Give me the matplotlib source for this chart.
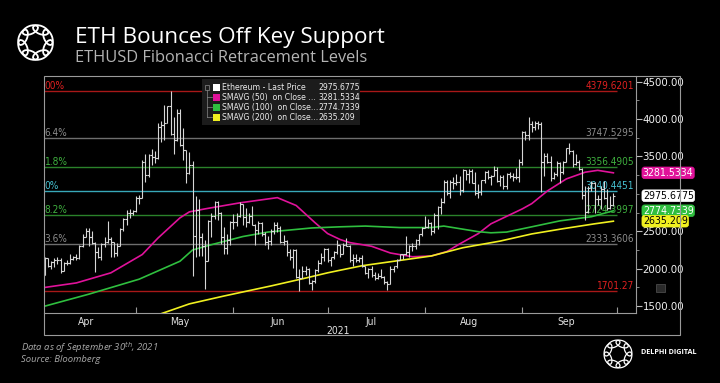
import matplotlib
matplotlib.use("Agg")
import matplotlib.pyplot as plt
import matplotlib.dates as mdates
from matplotlib import font_manager
from matplotlib.font_manager import FontProperties
from matplotlib.patches import Rectangle, Ellipse
from matplotlib.lines import Line2D
import numpy as np
import pandas as pd

# ---- data ----
start_date = "2021-04-02"
end_date = "2021-09-30"
first_open = 1920

close = [
    # Apr 2-30
    2140, 2030, 2090, 2110, 2110, 1970, 2080, 2070, 2135, 2150, 2140, 2300, 2430, 2510, 2420,
    2350, 2230, 2160, 2330, 2360, 2400, 2360, 2210, 2300, 2530, 2660, 2750, 2750, 2770,
    # May
    2945, 2950, 3430, 3250, 3520, 3490, 3480, 3900, 3920, 3950, 4170, 3800, 3720, 4080, 3650,
    3590, 3280, 3380, 2440, 2780, 2430, 2300, 2100, 2640, 2710, 2890, 2740, 2420, 2280, 2390, 2630,
    # Jun
    2630, 2710, 2860, 2690, 2630, 2710, 2590, 2520, 2610, 2470, 2360, 2370, 2510, 2590, 2550,
    2360, 2370, 2230, 2160, 2250, 1890, 1875, 1970, 1990, 1810, 1830, 1980, 2080, 2160, 2270,
    # Jul
    2110, 2150, 2220, 2320, 2200, 2320, 2310, 2120, 2140, 2110, 2140, 2030, 1940, 1990, 1910,
    1880, 1900, 1890, 1820, 1790, 1990, 2030, 2120, 2190, 2190, 2230, 2300, 2300, 2380, 2460, 2540,
    # Aug
    2560, 2610, 2500, 2720, 2830, 2890, 3160, 3010, 3160, 3140, 3160, 3050, 3320, 3270, 3310,
    3150, 3010, 3030, 3180, 3290, 3230, 3240, 3320, 3170, 3230, 3110, 3270, 3240, 3230, 3220, 3430,
    # Sep
    3830, 3790, 3940, 3890, 3950, 3930, 3430, 3500, 3430, 3210, 3270, 3410, 3290, 3430, 3610,
    3570, 3400, 3430, 3330, 2980, 2760, 3080, 3150, 2930, 2930, 3060, 2940, 2810, 2850, 2975.6775,
]
high = [
    2150, 2145, 2100, 2140, 2150, 2140, 2095, 2110, 2190, 2165, 2200, 2320, 2470, 2540, 2550,
    2500, 2360, 2290, 2350, 2430, 2640, 2430, 2360, 2350, 2540, 2680, 2790, 2800, 2790,
    2970, 2985, 3450, 3530, 3530, 3600, 3570, 3950, 3980, 4190, 4180, 4379.62, 4030, 4130, 4140,
    3880, 3590, 3560, 3440, 2970, 2930, 2480, 2380, 2650, 2750, 2910, 2900, 2760, 2560, 2460, 2640,
    2730, 2750, 2890, 2860, 2810, 2750, 2840, 2600, 2640, 2620, 2490, 2440, 2530, 2620, 2630,
    2570, 2450, 2380, 2270, 2260, 2260, 2000, 2040, 2040, 2010, 1850, 1990, 2120, 2210, 2280,
    2280, 2160, 2240, 2390, 2320, 2350, 2410, 2320, 2190, 2190, 2160, 2180, 2040, 2010, 2030,
    1960, 1940, 1990, 1900, 1840, 2030, 2040, 2130, 2200, 2200, 2440, 2320, 2340, 2400, 2470, 2560,
    2700, 2670, 2630, 2740, 2840, 2950, 3180, 3180, 3180, 3230, 3270, 3240, 3330, 3310, 3330,
    3330, 3290, 3130, 3190, 3300, 3320, 3250, 3370, 3360, 3250, 3250, 3280, 3290, 3280, 3350, 3470,
    3840, 3840, 4030, 3970, 3980, 3970, 3960, 3550, 3550, 3510, 3290, 3440, 3420, 3440, 3620,
    3680, 3590, 3530, 3450, 3350, 3100, 3100, 3170, 3160, 2980, 3110, 3170, 3060, 2970, 3010,
]
low = [
    1950, 2025, 1990, 2020, 2060, 1940, 1965, 2055, 2060, 2110, 2120, 2135, 2290, 2420, 2310,
    2330, 1960, 2140, 2110, 2290, 2340, 2150, 2160, 2170, 2300, 2510, 2580, 2680, 2720,
    2760, 2860, 2950, 3160, 3230, 3380, 3410, 3460, 3700, 3720, 3950, 3790, 3530, 3710, 3640,
    3450, 3150, 3260, 1900, 2160, 2170, 2170, 1730, 2100, 2420, 2660, 2650, 2330, 2190, 2200, 2320,
    2530, 2570, 2690, 2580, 2560, 2610, 2580, 2320, 2460, 2440, 2320, 2260, 2320, 2460, 2490,
    2340, 2320, 2170, 2120, 2010, 1880, 1701.27, 1870, 1910, 1800, 1720, 1810, 1960, 2060, 2100,
    2090, 2040, 2130, 2190, 2150, 2190, 2300, 2090, 2040, 2090, 2090, 2020, 1930, 1880, 1890,
    1850, 1860, 1880, 1800, 1720, 1790, 1960, 2010, 2110, 2130, 2180, 2150, 2240, 2260, 2320, 2440,
    2540, 2550, 2450, 2480, 2530, 2730, 2880, 2990, 2950, 3060, 3120, 2990, 3030, 3180, 3140,
    3140, 2990, 2950, 2990, 3150, 3200, 3120, 3240, 3160, 3100, 3070, 3060, 3210, 3170, 3200, 3160,
    3390, 3720, 3720, 3830, 3850, 3870, 3030, 3240, 3410, 3170, 3200, 3240, 3150, 3270, 3420,
    3530, 3360, 3380, 3320, 2930, 2650, 2740, 3040, 2740, 2850, 2800, 2930, 2790, 2800, 2840,
]

sma50_dates = ["2021-04-02", "2021-04-12", "2021-04-23", "2021-05-03", "2021-05-08", "2021-05-15",
               "2021-05-18", "2021-05-23", "2021-06-03", "2021-06-15", "2021-06-21", "2021-06-27",
               "2021-07-01", "2021-07-05", "2021-07-08", "2021-07-15", "2021-07-21", "2021-07-28",
               "2021-08-03", "2021-08-08", "2021-08-12", "2021-08-18", "2021-08-22", "2021-09-01",
               "2021-09-04", "2021-09-09", "2021-09-15", "2021-09-21", "2021-09-25", "2021-09-30"]
sma50_vals = [1750, 1810, 1945, 2190, 2410, 2680, 2760, 2800, 2880, 2950, 2845, 2615,
              2470, 2390, 2350, 2300, 2210, 2160, 2170, 2230, 2330, 2470, 2600, 2800,
              2870, 3040, 3200, 3290, 3315, 3281.5334]

sma100_dates = ["2021-04-02", "2021-04-16", "2021-05-02", "2021-05-15", "2021-05-19", "2021-05-24",
                "2021-06-04", "2021-06-12", "2021-06-26", "2021-07-05", "2021-07-13", "2021-07-24",
                "2021-08-03", "2021-08-07", "2021-08-18", "2021-08-22", "2021-08-27", "2021-09-04",
                "2021-09-13", "2021-09-23", "2021-09-30"]
sma100_vals = [1500, 1660, 1860, 2100, 2250, 2310, 2430, 2490, 2545, 2560, 2570, 2550,
               2550, 2570, 2495, 2480, 2490, 2560, 2640, 2695, 2774.7339]

sma200_dates = ["2021-05-05", "2021-05-18", "2021-05-29", "2021-06-13", "2021-06-24", "2021-07-01",
                "2021-07-05", "2021-07-12", "2021-07-23", "2021-08-03", "2021-08-13", "2021-08-25",
                "2021-09-04", "2021-09-14", "2021-09-24", "2021-09-30"]
sma200_vals = [1340, 1530, 1635, 1770, 1875, 1945, 1980, 2040, 2105, 2170, 2280, 2370,
               2465, 2535, 2600, 2635.209]

fib_levels = [4379.6201, 3747.5295, 3356.4905, 3040.4451, 2724.3997, 2333.3606, 1701.27]
fib_left = ["00%", "6.4%", "1.8%", "0%", "8.2%", "3.6%", ""]
fib_right = ["4379.6201", "3747.5295", "3356.4905", "3040.4451", "2724.3997", "2333.3606", "1701.27"]
fib_colors = ["#a81818", "#6e6e6e", "#2a822a", "#38a8b8", "#2a822a", "#6e6e6e", "#a81818"]
fib_text_colors = ["#e02020", "#8c8c8c", "#3fb03f", "#45c0d0", "#3fb03f", "#8c8c8c", "#e02020"]

legend_names = ["Ethereum - Last Price", "SMAVG (50)  on Close ...",
                "SMAVG (100)  on Close...", "SMAVG (200)  on Close..."]
legend_values = ["2975.6775", "3281.5334", "2774.7339", "2635.209"]
series_colors = ["#ffffff", "#e0129a", "#2fbf3f", "#f0f020"]
last_values = [2975.6775, 3281.5334, 2774.7339, 2635.209]
y_ticks = [1500, 2000, 2500, 3500, 4000, 4500]

title = "ETH Bounces Off Key Support"
subtitle = "ETHUSD Fibonacci Retracement Levels"

# ---- fonts: look for a narrow face, Bloomberg text is condensed ----
narrow_file = None
for f in font_manager.fontManager.ttflist:
    fn = f.fname.lower()
    if ("narrow" in fn or "condensed" in fn) and f.style == "normal" and f.weight in (400, "normal"):
        if "liberation" in fn or "dejavusans" in fn:
            narrow_file = f.fname
            break


def nfont(size):
    if narrow_file:
        return FontProperties(fname=narrow_file, size=size)
    return FontProperties(family="Liberation Sans", size=size * 0.88)


W, H = 720, 383


def fx(x):
    return x / W


def fy(y):
    return 1 - y / H


fig = plt.figure(figsize=(7.2, 3.83), dpi=100, facecolor="black")

# chart area
ax = fig.add_axes([fx(44.3), fy(313.3), fx(635.7) - fx(44.3), fy(76) - fy(313.3)])
ax.set_facecolor("black")

dates = pd.date_range(start_date, end_date, freq="D")
xd = mdates.date2num(dates)
c = np.array(close, dtype=float)
o = np.concatenate([[first_open], c[:-1]])
h = np.maximum(np.array(high, dtype=float), np.maximum(o, c))
lo = np.minimum(np.array(low, dtype=float), np.minimum(o, c))

base = mdates.date2num(pd.Timestamp("2021-04-01"))
x_left, x_right = base + 0.8, base + 189.1
ax.set_xlim(x_left, x_right)
ax.set_ylim(1404, 4576)

# fib lines
x_end = mdates.date2num(pd.Timestamp("2021-10-01"))
for lvl, lt, rt, col, tcol in zip(fib_levels, fib_left, fib_right, fib_colors, fib_text_colors):
    ax.hlines(lvl, x_left, x_end, color=col, lw=1.0, zorder=1)
    ax.text(x_end + 5.5, lvl, rt, color=tcol, fontproperties=nfont(7.2),
            ha="right", va="bottom", zorder=2)
    if lt:
        ax.text(x_left + 0.1, lvl, lt, color=tcol, fontproperties=nfont(7.2),
                ha="left", va="bottom", zorder=2)

# price bars
bar_col = "#d6d6d6"
ax.vlines(xd, lo, h, color=bar_col, lw=0.8, zorder=4)
ax.hlines(o, xd - 0.6, xd, color=bar_col, lw=0.8, zorder=4)
ax.hlines(c, xd, xd + 0.6, color=bar_col, lw=0.8, zorder=4)

# moving averages
ax.plot(mdates.date2num(pd.to_datetime(sma50_dates)), sma50_vals, color=series_colors[1], lw=1.2, zorder=3)
ax.plot(mdates.date2num(pd.to_datetime(sma100_dates)), sma100_vals, color=series_colors[2], lw=1.2, zorder=3)
ax.plot(mdates.date2num(pd.to_datetime(sma200_dates)), sma200_vals, color=series_colors[3], lw=1.2, zorder=3)

# axes styling
for s in ["top", "left"]:
    ax.spines[s].set_visible(False)
for s in ["right", "bottom"]:
    ax.spines[s].set_color("#9a9a9a")
    ax.spines[s].set_linewidth(0.8)

ax.yaxis.tick_right()
ax.set_yticks(y_ticks)
ax.set_yticks(np.arange(1500, 4600, 250), minor=True)
ax.yaxis.set_major_formatter(matplotlib.ticker.FormatStrFormatter("%.2f"))
ax.tick_params(axis="y", which="major", direction="out", length=4, width=0.8, color="#bdbdbd",
               labelcolor="#f0f0f0", pad=1)
ax.tick_params(axis="y", which="minor", direction="out", length=2, width=0.6, color="#9a9a9a")
for t in ax.get_yticklabels():
    t.set_fontproperties(nfont(8.2))

ax.xaxis.set_major_locator(mdates.MonthLocator())
ax.xaxis.set_major_formatter(matplotlib.ticker.NullFormatter())
ax.xaxis.set_minor_locator(mdates.MonthLocator(bymonthday=15))
ax.xaxis.set_minor_formatter(mdates.DateFormatter("%b"))
ax.tick_params(axis="x", which="major", direction="in", length=4, width=0.8, color="#9a9a9a")
ax.tick_params(axis="x", which="minor", length=0, labelcolor="#e0e0e0", pad=3)
for t in ax.get_xticklabels(minor=True):
    t.set_fontproperties(nfont(7.5))

# last value boxes on the right axis
box_text_cols = ["#000000", "#ffffff", "#ffffff", "#000000"]
box_face = ["#ffffff", "#e0129a", "#2fbf3f", "#f0f020"]
for val, lab, fc, tc in zip(last_values, legend_values, box_face, box_text_cols):
    ax.text(1.012, val, lab, transform=ax.get_yaxis_transform(), color=tc,
            fontproperties=nfont(7.6), ha="left", va="center", zorder=10, clip_on=False,
            bbox=dict(boxstyle="round,pad=0.08,rounding_size=0.25", fc=fc, ec=fc, lw=0.5))

# outer frame
fig.add_artist(Rectangle((fx(44.3), fy(335)), fx(680) - fx(44.3), fy(76) - fy(335),
                         transform=fig.transFigure, fill=False, ec="#9a9a9a", lw=0.8))
fig.text(fx(338), fy(331), "2021", color="#e0e0e0", fontproperties=nfont(7.5), ha="center", va="center")

# small menu icon
fig.add_artist(Rectangle((fx(656), fy(292)), fx(9), fy(0) - fy(8), transform=fig.transFigure,
                         fc="#2a2a2a", ec="#555555", lw=0.5))

# legend
fig.add_artist(Rectangle((fx(202), fy(125)), fx(360) - fx(202), fy(79) - fy(125),
                         transform=fig.transFigure, fc="#1c1c1c", ec="none", zorder=5))
rows_y = [87.3, 97.3, 107.3, 117.3]
fig.add_artist(Rectangle((fx(205), fy(89.5)), fx(4.5), fy(0) - fy(4.5), transform=fig.transFigure,
                         fill=False, ec="#8a8a8a", lw=0.5, zorder=6))
fig.add_artist(Line2D([fx(207.2), fx(207.2)], [fy(90), fy(117.3)], color="#8a8a8a", lw=0.5, zorder=6))
for ry, name, val, col in zip(rows_y, legend_names, legend_values, series_colors):
    if ry > 90:
        fig.add_artist(Line2D([fx(207.2), fx(212)], [fy(ry), fy(ry)], color="#8a8a8a", lw=0.5, zorder=6))
    fig.add_artist(Rectangle((fx(213), fy(ry + 3.5)), fx(7), fy(0) - fy(7), transform=fig.transFigure,
                             fc=col, ec="none", zorder=6))
    fig.text(fx(222), fy(ry), name, color="#ececec", fontproperties=nfont(6.2), va="center", zorder=7)
    fig.text(fx(318), fy(ry), val, color="#ececec", fontproperties=nfont(6.2), va="center", zorder=7)

# titles
fig.text(fx(75), fy(38), title, color="white", fontsize=16.2, family="Open Sans", va="center")
fig.text(fx(75), fy(58), subtitle, color="#b4b4b4", fontsize=11.8, family="Open Sans", va="center")
fig.text(fx(21), fy(348), "Data as of September 30$^{th}$, 2021", color="#a8a8a8", fontsize=6.8,
         family="Open Sans", style="italic", va="center")
fig.text(fx(21), fy(359), "Source: Bloomberg", color="#a8a8a8", fontsize=6.8,
         family="Open Sans", style="italic", va="center")
fig.text(fx(641), fy(353), "DELPHI DIGITAL", color="white", fontsize=5.2, family="Open Sans",
         weight="bold", va="center")


def draw_logo(x0, y0, size, lw):
    lax = fig.add_axes([fx(x0), fy(y0 + size), fx(size), fy(0) - fy(size)])
    lax.set_xlim(-1, 1)
    lax.set_ylim(-1, 1)
    lax.axis("off")
    lax.patch.set_alpha(0)
    for k in range(8):
        a = 2 * np.pi * k / 8 + np.pi / 8
        lax.add_patch(Ellipse((0.6 * np.cos(a), 0.6 * np.sin(a)), 0.72, 0.36,
                              angle=np.degrees(a) + 90, fill=False, ec="white", lw=lw))


draw_logo(13, 20, 45, 1.3)
draw_logo(600, 336, 36, 0.9)

fig.savefig("out.png", dpi=100, facecolor="black")
